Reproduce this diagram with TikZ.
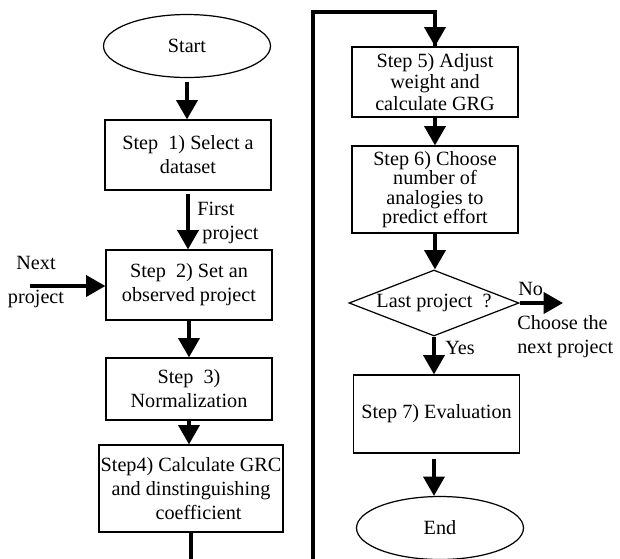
\documentclass[tikz,border=0pt]{standalone}
\usepackage{fontspec}
\setmainfont{Liberation Serif}
\usetikzlibrary{shapes.geometric,arrows.meta}

\tikzset{
	stepbox/.style={draw, line width=0.7pt, rectangle, align=center, inner sep=1pt, minimum width=3.32cm},
	terminal/.style={draw, line width=0.7pt, ellipse, minimum width=3.34cm, minimum height=1.26cm},
	decision/.style={draw, line width=0.7pt, diamond, aspect=2.6, minimum width=3.4cm, minimum height=1.32cm, inner sep=0pt},
	flow/.style={line width=2pt, -{Triangle[length=11pt,width=12pt]}},
	loopline/.style={line width=2pt},
	note/.style={align=left, inner sep=0pt, anchor=west}
}

\begin{document}
\begin{tikzpicture}[x=0.02cm, y=-0.02cm, font=\fontsize{11.5}{13.6}\selectfont]
		\clip (0,0) rectangle (620,559);

		% left column
		\node[terminal] (start) at (187,46) {Start};
		\node[stepbox, minimum height=1.4cm] (s1) at (188,155) {Step\ \ 1) Select a\\dataset};
		\node[stepbox, minimum height=1.4cm] (s2) at (189,285) {Step\ \ 2) Set an\\observed project};
		\node[stepbox, minimum height=1.24cm] (s3) at (189,389) {Step\ \ 3)\\Normalization};
		\node[stepbox, minimum width=3.48cm, minimum height=1.74cm] (s4) at (191,488.5) {Step4) Calculate GRC\\and dinstinguishing\\\ \ \ coefficient};

		% right column
		\node[stepbox, minimum height=1.4cm, font=\fontsize{11.5}{12.2}\selectfont] (s5) at (435,82) {Step 5) Adjust\\weight and\\calculate GRG};
		\node[stepbox, minimum height=1.74cm, font=\fontsize{11.5}{11.1}\selectfont] (s6) at (435,189.5) {Step 6) Choose\\number of\\analogies to\\predict effort};
		\node[decision] (last) at (434,303) {Last project\ \ ?};
		\node[stepbox, minimum height=1.56cm] (s7) at (436.5,414) {Step 7) Evaluation};
		\node[terminal] (stop) at (440,528) {End};

		% labels
		\node[note] (first) at (197,223) {First\\\ project};
		\node[align=center, inner sep=0pt] (next) at (36,282) {Next\\[5.7pt]project};
		\node[note] (no) at (518,289) {No};
		\node[note] (choose) at (517,337) {Choose the\\next project};
		\node[note] (yes) at (445,348) {Yes};

		\coordinate (in) at (30,286);
		\coordinate (out) at (563,303);
		\coordinate (down) at (191,600);
		\coordinate (top) at (313,12);

		\draw[flow] ([yshift=-2pt]start.south) -- (s1.north -| start.south);
		\draw[flow] ([yshift=-2pt]s1.south) -- (s2.north -| s1.south);
		\draw[flow] (s2) -- (s3);
		\draw[flow] (s3) -- (s3 |- s4.north);
		\draw[flow] (in) -- (in -| s2.west);
		\draw[loopline] (s4.south) -- (down) -| (top) -| (s5.north);
		\draw[flow] (top -| s5.north) -- (s5.north);
		\draw[flow] (s5) -- (s6);
		\draw[flow] (s6.south) -- (last.north -| s6.south);
		\draw[flow] (last.east) -- (out);
		\draw[flow] (last.south) -- (s7.north -| last.south);
		\draw[flow] ([yshift=-3pt]s7.south -| last.south) -- (stop.north -| last.south);
	\end{tikzpicture}
\end{document}
